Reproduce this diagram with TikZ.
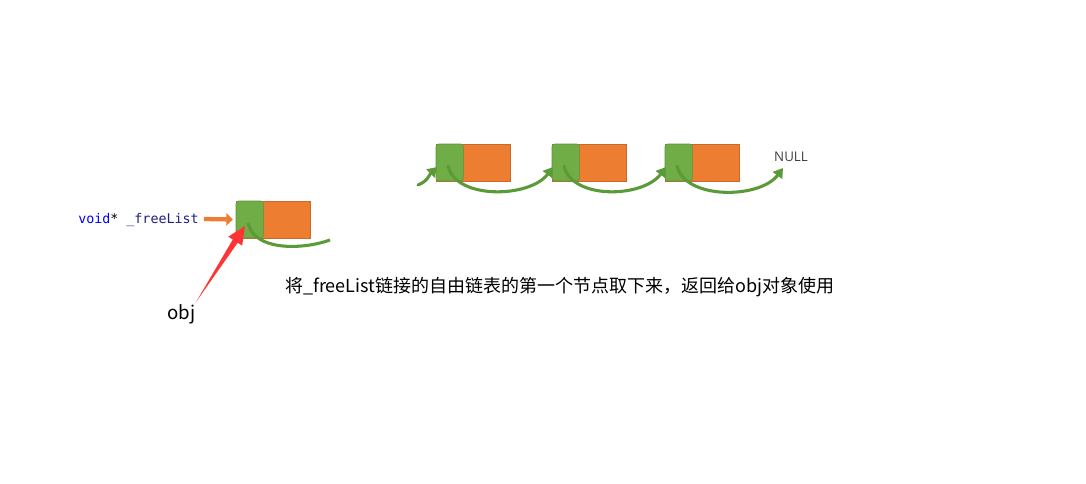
\documentclass[tikz,border=0pt]{standalone}
\usepackage{fontspec}
\setmainfont{Noto Sans CJK SC}
\newfontfamily\codefont{DejaVu Sans Mono}
\newfontfamily\nulltxtfont{Open Sans}
\usetikzlibrary{arrows.meta,calc}
\definecolor{pgreen}{HTML}{70AD47}
\definecolor{pgreendark}{HTML}{5B9A38}
\definecolor{porange}{HTML}{ED7D31}
\definecolor{pred}{HTML}{FF3535}
\definecolor{codeblue}{HTML}{0000FF}
\definecolor{codenavy}{HTML}{1F1F80}
\definecolor{nullgray}{HTML}{404040}
\begin{document}
\begin{tikzpicture}[x=0.75pt,y=-0.75pt,
  orangebox/.style={draw=porange!85!black, line width=0.4pt, fill=porange, minimum width=55.5pt, minimum height=27.75pt, inner sep=0pt, outer sep=0pt, anchor=north west},
  greenbox/.style={draw=pgreen!85!black, line width=0.4pt, fill=pgreen, rounded corners=2pt, minimum width=20.5pt, minimum height=27.75pt, inner sep=0pt, outer sep=0pt, anchor=north west},
  link/.style={draw=pgreendark, line width=2.3pt, line cap=round, -{Triangle[length=7pt,width=8.5pt]}},
  linkcut/.style={draw=pgreendark, line width=2.3pt},
  ptrarrow/.style={draw=porange, line width=3.2pt, -{Triangle[length=5pt,width=9pt]}},
]
\useasboundingbox[fill=white] (0,0) rectangle (1086,483);

% pointer text
\node[anchor=west, inner sep=0pt, font=\codefont\fontsize{10pt}{12pt}\selectfont] (fl) at (78,220)
  {\textcolor{codeblue}{void}* \textcolor{codenavy}{\_freeList}};

% first node (freeList head)
\node[orangebox] (o0) at (236,201) {};
\node[greenbox] (g0) at (236,201) {};

% chain
\node[orangebox] (o1) at (436,144) {};
\node[greenbox] (g1) at (436,144) {};
\node[orangebox] (o2) at (552,144) {};
\node[greenbox] (g2) at (552,144) {};
\node[orangebox] (o3) at (665,144) {};
\node[greenbox] (g3) at (665,144) {};
\node[font=\nulltxtfont\fontsize{10pt}{12pt}\selectfont, text=nullgray, inner sep=0pt] (null) at (791,157) {NULL};

% arrows
\draw[ptrarrow] ($(fl.east)+(5,-1)$) -- ($(g0.west)+(-3,0)$);
\draw[linkcut] ($(g0.north west)+(12,22)$) .. controls +(6,28) and +(-28,10) .. (330,240);

\coordinate (in1) at (418,185);
\draw[link] (in1) .. controls +(10,-4) and +(-8,8) .. ($(g1.north west)+(1,23)$);
\draw[link] ($(g1.north west)+(12,22)$) .. controls +(8,34) and +(-23,31) .. ($(g2.north west)+(1,23)$);
\draw[link] ($(g2.north west)+(12,22)$) .. controls +(8,34) and +(-23,31) .. ($(g3.north west)+(1,23)$);
\draw[link] ($(g3.north west)+(12,22)$) .. controls +(8,34) and +(-23,31) .. ($(null.center)+(-8,11)$);

% caption
\node[anchor=west, inner sep=0pt, font=\fontsize{13.5pt}{16pt}\selectfont] (cap) at (285,287)
  {将\_freeList链接的自由链表的第一个节点取下来，返回给obj对象使用};

% obj label and red arrow
\node[anchor=west, inner sep=0pt, font=\fontsize{14pt}{16pt}\selectfont] (obj) at (167,314) {obj};
\coordinate (rt) at (196,302);
\coordinate (rh) at ($(g0.south west)+(9,-12)$);
\coordinate (rb) at ($(rh)!13.5pt!(rt)$);
\fill[pred] (rt) -- ($(rb)!2.2pt!90:(rh)$) -- ($(rb)!6.2pt!90:(rh)$) -- (rh)
  -- ($(rb)!6.2pt!-90:(rh)$) -- ($(rb)!2.2pt!-90:(rh)$) -- cycle;
\end{tikzpicture}
\end{document}
